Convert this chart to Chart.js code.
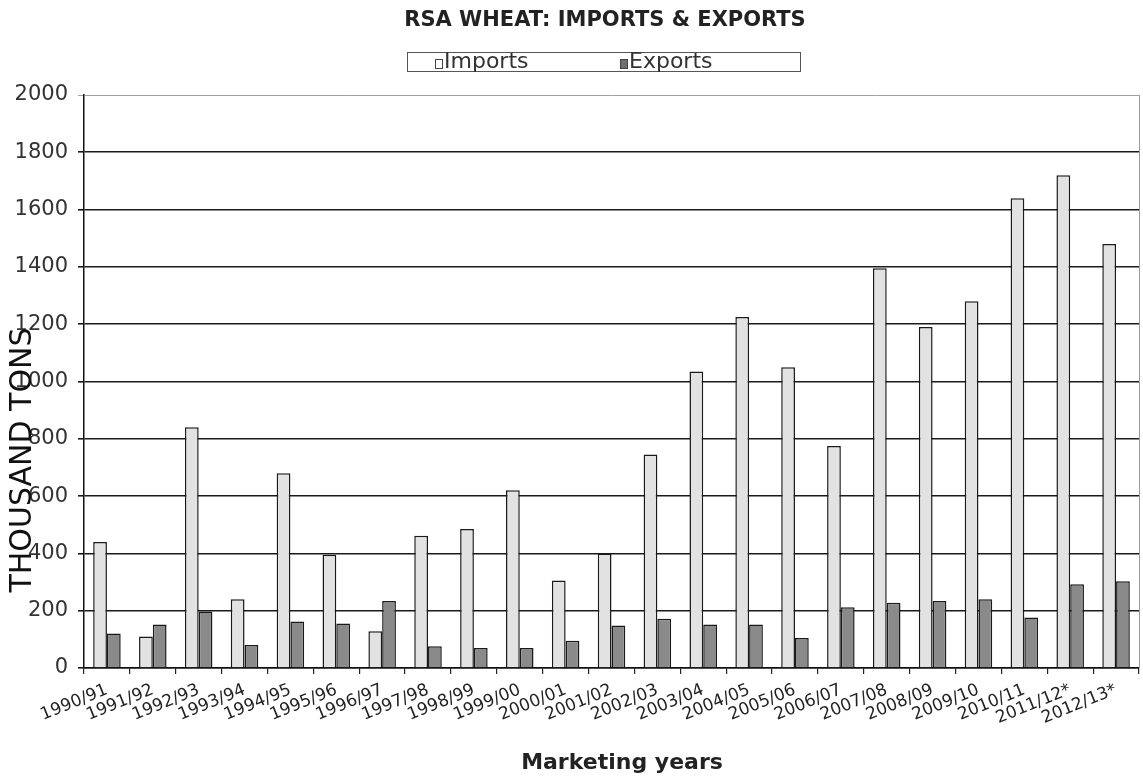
<!DOCTYPE html>
<html>
<head>
<meta charset="utf-8">
<script src="https://cdn.jsdelivr.net/npm/chart.js@4.4.1/dist/chart.umd.min.js"></script>
<style>
  html, body { margin: 0; padding: 0; background: #ffffff; }
  #wrap { width: 1143px; height: 784px; position: relative; }
</style>
</head>
<body>
<div id="wrap"><canvas id="chart" width="1143" height="784"></canvas></div>
<script>
// Marketing years on the category axis
const marketingYears = [
  '1990/91', '1991/92', '1992/93', '1993/94', '1994/95', '1995/96', '1996/97',
  '1997/98', '1998/99', '1999/00', '2000/01', '2001/02', '2002/03', '2003/04',
  '2004/05', '2005/06', '2006/07', '2007/08', '2008/09', '2009/10', '2010/11',
  '2011/12*', '2012/13*'
];

// Wheat imports, thousand tons
const imports = [
  440, 110, 840, 240, 680, 395, 128, 462, 485, 620, 305, 400, 745, 1035,
  1225, 1050, 775, 1395, 1190, 1280, 1640, 1720, 1480
];

// Wheat exports, thousand tons
const exports = [
  120, 152, 197, 80, 162, 155, 234, 76, 70, 70, 95, 148, 172, 152,
  152, 105, 212, 228, 234, 240, 176, 292, 303
];

// Value axis range and step
const yMin = 0;
const yMax = 2000;
const yStep = 200;

const chartTitle = 'RSA WHEAT: IMPORTS & EXPORTS';
const yTitle = 'THOUSAND TONS';
const xTitle = 'Marketing years';

const FONT = '"DejaVu Sans", "Liberation Sans", Arial, sans-serif';
const importFill = '#e2e2e2';
const exportFill = '#8a8a8a';

// Title, boxed legend, axis titles and the light plot frame
const decorations = {
  id: 'decorations',
  afterDraw(chart) {
    const ctx = chart.ctx;
    const area = chart.chartArea;
    ctx.save();

    // light right-hand frame line
    ctx.strokeStyle = '#9a9a9a';
    ctx.lineWidth = 1;
    ctx.beginPath();
    ctx.moveTo(area.right + 0.5, area.top);
    ctx.lineTo(area.right + 0.5, area.bottom);
    ctx.stroke();

    // chart title
    ctx.fillStyle = '#222222';
    ctx.font = 'bold 21px ' + FONT;
    ctx.textAlign = 'center';
    ctx.textBaseline = 'middle';
    ctx.fillText(chartTitle, 605, 21);

    // legend frame
    ctx.strokeStyle = '#555555';
    ctx.lineWidth = 1;
    ctx.strokeRect(407.5, 52.5, 393, 19);

    // legend entries
    const ds = chart.data.datasets;
    const entries = [
      { x: 435, label: ds[0].label, fill: '#ffffff' },
      { x: 620, label: ds[1].label, fill: '#6e6e6e' }
    ];
    ctx.font = '22px ' + FONT;
    ctx.textAlign = 'left';
    ctx.textBaseline = 'alphabetic';
    entries.forEach(e => {
      ctx.fillStyle = e.fill;
      ctx.fillRect(e.x, 59, 8, 10);
      ctx.strokeStyle = '#444444';
      ctx.strokeRect(e.x + 0.5, 59.5, 7, 9);
      ctx.fillStyle = '#333333';
      ctx.fillText(e.label, e.x + 9, 68);
    });

    // value axis title
    ctx.save();
    ctx.translate(23, 460);
    ctx.rotate(-Math.PI / 2);
    ctx.fillStyle = '#111111';
    ctx.font = '30px ' + FONT;
    ctx.textAlign = 'center';
    ctx.textBaseline = 'middle';
    ctx.fillText(yTitle, 0, 0);
    ctx.restore();

    // category axis title
    ctx.fillStyle = '#222222';
    ctx.font = 'bold 22px ' + FONT;
    ctx.textAlign = 'center';
    ctx.textBaseline = 'middle';
    ctx.fillText(xTitle, 622, 763);

    ctx.restore();
  }
};

new Chart(document.getElementById('chart'), {
  type: 'bar',
  data: {
    labels: marketingYears,
    datasets: [
      {
        label: 'Imports',
        data: imports,
        backgroundColor: importFill,
        borderColor: '#1a1a1a',
        borderWidth: 1.5
      },
      {
        label: 'Exports',
        data: exports,
        backgroundColor: exportFill,
        borderColor: '#1a1a1a',
        borderWidth: 1.5
      }
    ]
  },
  options: {
    responsive: false,
    animation: false,
    devicePixelRatio: 1,
    layout: { padding: { top: 95, right: 4, left: 0, bottom: 0 } },
    datasets: {
      bar: { categoryPercentage: 0.6, barPercentage: 1.0 }
    },
    plugins: {
      legend: { display: false },
      title: { display: false },
      tooltip: { enabled: false }
    },
    scales: {
      x: {
        afterFit(scale) { scale.height = 116; },
        border: { display: true, color: '#111111', width: 1.5 },
        grid: {
          display: true,
          offset: true,
          drawOnChartArea: false,
          drawTicks: true,
          tickLength: 6,
          color: '#222222',
          lineWidth: 1.2
        },
        ticks: {
          autoSkip: false,
          minRotation: 22,
          maxRotation: 22,
          padding: 6,
          color: '#222222',
          font: { family: FONT, size: 17 }
        }
      },
      y: {
        min: yMin,
        max: yMax,
        afterFit(scale) { scale.width = 84; },
        border: { display: true, color: '#111111', width: 1.5 },
        grid: {
          color: ctx => (ctx.tick && ctx.tick.value === yMax) ? '#a0a0a0' : '#1a1a1a',
          lineWidth: ctx => (ctx.tick && ctx.tick.value === yMax) ? 1 : 1.6,
          tickLength: 6,
          drawTicks: true
        },
        ticks: {
          stepSize: yStep,
          padding: 10,
          color: '#333333',
          font: { family: FONT, size: 21 },
          callback: value => String(value)
        }
      }
    }
  },
  plugins: [decorations]
});
</script>
</body>
</html>
